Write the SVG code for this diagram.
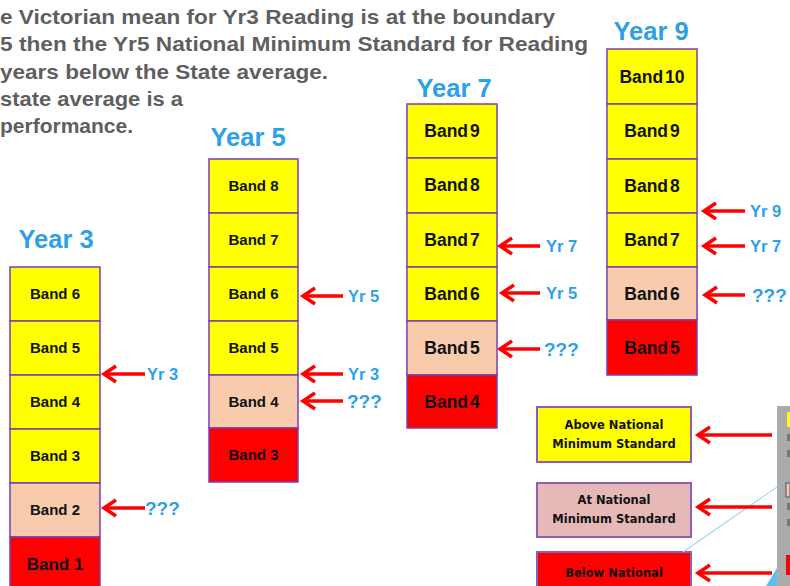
<svg xmlns="http://www.w3.org/2000/svg" width="790" height="586" viewBox="0 0 790 586">
<style>
.hdr{font-family:"Liberation Sans",Arial,sans-serif;font-weight:bold;font-size:20.5px;fill:#5f5f5f}
.title{font-family:"Liberation Sans",Arial,sans-serif;font-weight:bold;font-size:25.5px;fill:#2f9fe6;text-anchor:middle}
.b{stroke:#7a3fb0;stroke-width:1.5}
.y{fill:#ffff00}
.p{fill:#f8cbad}
.r{fill:#ff0000}
.t{font-family:"Liberation Sans",Arial,sans-serif;font-weight:bold;font-size:15px;fill:#111;text-anchor:middle}
.t2{font-family:"Liberation Sans",Arial,sans-serif;font-weight:bold;font-size:17.5px;fill:#111;text-anchor:middle;word-spacing:-3px}
.lbl{font-family:"Liberation Sans",Arial,sans-serif;font-weight:bold;font-size:16.5px;fill:#2f9fe6}
.q{font-size:19px}
.arr{stroke:#ff0000;stroke-width:3.5;fill:none;marker-end:url(#ah)}
.lg{font-family:"DejaVu Sans",Verdana,sans-serif;font-weight:bold;font-size:11.5px;fill:#111;text-anchor:middle}
.lb{stroke:#8e5fb0;stroke-width:2}
</style>
<defs>
<marker id="ah" markerUnits="userSpaceOnUse" viewBox="-16 -12 20 24" markerWidth="20" markerHeight="24" refX="0" refY="0" orient="auto">
<path d="M-12,-8 L0,0 L-12,8" fill="none" stroke="#ff0000" stroke-width="3.5"/>
</marker>
</defs>
<rect width="790" height="586" fill="#ffffff"/>

<g id="header">
<text class="hdr" x="0" y="24" textLength="555" lengthAdjust="spacingAndGlyphs">e Victorian mean for Yr3 Reading is at the boundary</text>
<text class="hdr" x="0" y="51" textLength="588" lengthAdjust="spacingAndGlyphs">5 then the Yr5 National Minimum Standard for Reading</text>
<text class="hdr" x="0" y="79" textLength="328" lengthAdjust="spacingAndGlyphs">years below the State average.</text>
<text class="hdr" x="0" y="106" textLength="183" lengthAdjust="spacingAndGlyphs">state average is a</text>
<text class="hdr" x="0" y="133" textLength="133" lengthAdjust="spacingAndGlyphs">performance.</text>
</g>

<g id="year3">
<text class="title" x="56" y="248">Year 3</text>
<rect class="b y" x="10" y="267" width="90" height="54"/>
<rect class="b y" x="10" y="321" width="90" height="54"/>
<rect class="b y" x="10" y="375" width="90" height="54"/>
<rect class="b y" x="10" y="429" width="90" height="54"/>
<rect class="b p" x="10" y="483" width="90" height="54"/>
<rect class="b r" x="10" y="537" width="90" height="54"/>
<text class="t" x="55" y="299">Band 6</text>
<text class="t" x="55" y="353">Band 5</text>
<text class="t" x="55" y="407">Band 4</text>
<text class="t" x="55" y="461">Band 3</text>
<text class="t" x="55" y="515">Band 2</text>
<text class="t" x="55" y="570" style="font-size:17px">Band 1</text>
</g>

<g id="year5">
<text class="title" x="248" y="146">Year 5</text>
<rect class="b y" x="209" y="159" width="89" height="54"/>
<rect class="b y" x="209" y="213" width="89" height="54"/>
<rect class="b y" x="209" y="267" width="89" height="54"/>
<rect class="b y" x="209" y="321" width="89" height="54"/>
<rect class="b p" x="209" y="375" width="89" height="53"/>
<rect class="b r" x="209" y="428" width="89" height="54"/>
<text class="t" x="253.5" y="191">Band 8</text>
<text class="t" x="253.5" y="245">Band 7</text>
<text class="t" x="253.5" y="299">Band 6</text>
<text class="t" x="253.5" y="353">Band 5</text>
<text class="t" x="253.5" y="407">Band 4</text>
<text class="t" x="253.5" y="460">Band 3</text>
</g>

<g id="year7">
<text class="title" x="454" y="97">Year 7</text>
<rect class="b y" x="407" y="104" width="90" height="54"/>
<rect class="b y" x="407" y="158" width="90" height="55"/>
<rect class="b y" x="407" y="213" width="90" height="54"/>
<rect class="b y" x="407" y="267" width="90" height="54"/>
<rect class="b p" x="407" y="321" width="90" height="54"/>
<rect class="b r" x="407" y="375" width="90" height="53"/>
<text class="t2" x="452" y="137">Band 9</text>
<text class="t2" x="452" y="191">Band 8</text>
<text class="t2" x="452" y="246">Band 7</text>
<text class="t2" x="452" y="300">Band 6</text>
<text class="t2" x="452" y="354">Band 5</text>
<text class="t2" x="452" y="408">Band 4</text>
</g>

<g id="year9">
<text class="title" x="651" y="40">Year 9</text>
<rect class="b y" x="607" y="49" width="90" height="55"/>
<rect class="b y" x="607" y="104" width="90" height="55"/>
<rect class="b y" x="607" y="159" width="90" height="54"/>
<rect class="b y" x="607" y="213" width="90" height="54"/>
<rect class="b p" x="607" y="267" width="90" height="53"/>
<rect class="b r" x="607" y="320" width="90" height="55"/>
<text class="t2" x="652" y="83">Band 10</text>
<text class="t2" x="652" y="137">Band 9</text>
<text class="t2" x="652" y="192">Band 8</text>
<text class="t2" x="652" y="246">Band 7</text>
<text class="t2" x="652" y="300">Band 6</text>
<text class="t2" x="652" y="354">Band 5</text>
</g>

<g id="legend-above">
<rect class="lb" x="537" y="407" width="154" height="55" fill="#ffff00"/>
<text class="lg" x="614" y="429">Above National</text>
<text class="lg" x="614" y="448">Minimum Standard</text>
</g>
<g id="legend-at">
<rect class="lb" x="537" y="483" width="154" height="54" fill="#e6b9b8"/>
<text class="lg" x="614" y="504">At National</text>
<text class="lg" x="614" y="523">Minimum Standard</text>
</g>
<g id="legend-below">
<rect class="lb" x="537" y="552" width="154" height="50" fill="#ff0000"/>
<text class="lg" x="614" y="577">Below National</text>
<text class="lg" x="614" y="596">Minimum Standard</text>
</g>

<g id="side-panel">
<rect x="777" y="406" width="13" height="180" fill="#ababab"/>
<rect x="787" y="412" width="3" height="15" fill="#ffff00"/>
<rect x="787" y="434" width="3" height="7" fill="#777"/>
<rect x="787" y="450" width="3" height="7" fill="#777"/>
<rect x="786" y="483" width="4" height="14" fill="#f3c6b0" stroke="#555" stroke-width="1"/>
<rect x="787" y="503" width="3" height="7" fill="#777"/>
<rect x="787" y="519" width="3" height="7" fill="#777"/>
<rect x="786" y="555" width="4" height="20" fill="#ff0000"/>
<line x1="683" y1="552" x2="777" y2="487" stroke="#9fd8f2" stroke-width="1.2"/>
<polygon points="766,586 777,568 777,586" fill="#5bc0eb"/>
</g>

<g id="connectors">
<line class="arr" x1="145" y1="374" x2="104" y2="374"/>
<line class="arr" x1="145" y1="508" x2="104" y2="508"/>
<line class="arr" x1="343" y1="296" x2="303" y2="296"/>
<line class="arr" x1="343" y1="374" x2="303" y2="374"/>
<line class="arr" x1="343" y1="401" x2="303" y2="401"/>
<line class="arr" x1="540" y1="246" x2="500" y2="246"/>
<line class="arr" x1="540" y1="293" x2="502" y2="293"/>
<line class="arr" x1="540" y1="349" x2="500" y2="349"/>
<line class="arr" x1="745" y1="211" x2="704" y2="211"/>
<line class="arr" x1="745" y1="246" x2="704" y2="246"/>
<line class="arr" x1="745" y1="295" x2="705" y2="295"/>
<line class="arr" x1="772" y1="435" x2="698" y2="435"/>
<line class="arr" x1="772" y1="507" x2="698" y2="507"/>
<line class="arr" x1="772" y1="573" x2="698" y2="573"/>
</g>

<g id="labels">
<text class="lbl" x="147" y="380">Yr 3</text>
<text class="lbl q" x="145" y="515">???</text>
<text class="lbl" x="348" y="302">Yr 5</text>
<text class="lbl" x="348" y="380">Yr 3</text>
<text class="lbl q" x="347" y="408">???</text>
<text class="lbl" x="546" y="252">Yr 7</text>
<text class="lbl" x="546" y="299">Yr 5</text>
<text class="lbl q" x="544" y="356">???</text>
<text class="lbl" x="750" y="217">Yr 9</text>
<text class="lbl" x="750" y="252">Yr 7</text>
<text class="lbl q" x="752" y="302">???</text>
</g>
</svg>
